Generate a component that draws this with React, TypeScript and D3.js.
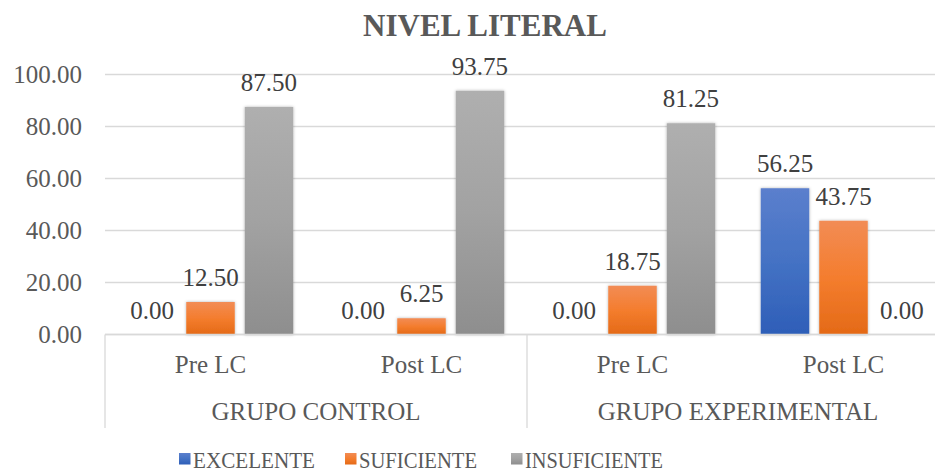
import React from "react";
import * as d3 from "d3";

const categories = ["Pre LC", "Post LC", "Pre LC", "Post LC"];
const groups = ["GRUPO CONTROL", "GRUPO EXPERIMENTAL"];
const seriesNames = ["EXCELENTE", "SUFICIENTE", "INSUFICIENTE"];
const excelente = [0, 0, 0, 56.25];
const suficiente = [12.5, 6.25, 18.75, 43.75];
const insuficiente = [87.5, 93.75, 81.25, 0];
const yTicks = [0, 20, 40, 60, 80, 100];

const width = 935;
const height = 471;
const font = "Liberation Serif";

// gradient stops per series: light top, base, dark bottom
const colors = [
  ["#5b7fcd", "#4472c4", "#2e5eb8"],
  ["#f28c55", "#f47d2e", "#e46a17"],
  ["#afafaf", "#a2a2a2", "#8e8e8e"],
];

export default function App() {
  const values = [excelente, suficiente, insuficiente];

  const plotLeft = 105;
  const plotRight = 949; // the chart runs past the right edge of the picture
  const y = d3.scaleLinear().domain([0, 100]).range([334.5, 74.5]);

  const x0 = d3
    .scaleBand<number>()
    .domain(categories.map((_, i) => i))
    .range([plotLeft, plotRight]);

  const x1 = d3
    .scaleBand<number>()
    .domain(seriesNames.map((_, i) => i))
    .range([0, x0.bandwidth()])
    .paddingInner(0.171)
    .paddingOuter(0.389);

  const groupWidth = x0.bandwidth() * 2;

  const legendItems = [
    { x: 179, textW: 122 },
    { x: 345, textW: 118 },
    { x: 511, textW: 138 },
  ];

  const textStyle = { fontFamily: font };

  return (
    <div style={{ position: "fixed", left: 0, top: 0 }}>
      <svg width={width} height={height} style={{ display: "block", background: "#fff" }}>
        <defs>
          {colors.map((c, i) => (
            <linearGradient key={i} id={`grad${i}`} x1="0" y1="0" x2="0" y2="1">
              <stop offset="0%" stopColor={c[0]} />
              <stop offset="50%" stopColor={c[1]} />
              <stop offset="100%" stopColor={c[2]} />
            </linearGradient>
          ))}
          <filter id="shadow" x="-20%" y="-20%" width="140%" height="140%">
            <feDropShadow dx="0" dy="0" stdDeviation="1.5" floodColor="#000" floodOpacity="0.3" />
          </filter>
        </defs>

        <text
          x={485}
          y={36}
          textAnchor="middle"
          style={textStyle}
          fontWeight="bold"
          fontSize={31}
          fill="#595959"
        >
          NIVEL LITERAL
        </text>

        {/* gridlines */}
        {yTicks.map((t) => (
          <line
            key={t}
            x1={plotLeft}
            x2={plotRight}
            y1={y(t)}
            y2={y(t)}
            stroke="#d9d9d9"
            strokeWidth={1.3}
          />
        ))}

        {/* y tick labels */}
        {yTicks.map((t) => (
          <text
            key={t}
            x={82}
            y={y(t) + 8.5}
            textAnchor="end"
            style={textStyle}
            fontSize={25}
            fill="#595959"
          >
            {t.toFixed(2)}
          </text>
        ))}

        {/* bars */}
        {categories.map((_, ci) =>
          values.map((vals, si) => {
            const v = vals[ci];
            const bx = (x0(ci) ?? 0) + (x1(si) ?? 0);
            return (
              <g key={`${ci}-${si}`}>
                {v > 0 && (
                  <rect
                    x={bx}
                    y={y(v)}
                    width={x1.bandwidth()}
                    height={y(0) - y(v)}
                    fill={`url(#grad${si})`}
                    filter="url(#shadow)"
                  />
                )}
                <text
                  x={bx + x1.bandwidth() / 2}
                  y={y(v) - 16}
                  textAnchor="middle"
                  style={textStyle}
                  fontSize={25}
                  fill="#404040"
                >
                  {v.toFixed(2)}
                </text>
              </g>
            );
          })
        )}

        {/* category axis */}
        <line x1={plotLeft} x2={plotRight} y1={y(0)} y2={y(0)} stroke="#d9d9d9" strokeWidth={1.3} />
        {[0, 1, 2].map((g) => {
          const gx = plotLeft + g * groupWidth;
          return (
            <line key={g} x1={gx} x2={gx} y1={y(0)} y2={428} stroke="#d9d9d9" strokeWidth={1.3} />
          );
        })}

        {categories.map((c, ci) => (
          <text
            key={ci}
            x={(x0(ci) ?? 0) + x0.bandwidth() / 2}
            y={373}
            textAnchor="middle"
            style={textStyle}
            fontSize={25}
            fill="#595959"
          >
            {c}
          </text>
        ))}

        {groups.map((g, gi) => (
          <text
            key={g}
            x={plotLeft + gi * groupWidth + groupWidth / 2}
            y={420}
            textAnchor="middle"
            style={textStyle}
            fontSize={25}
            fill="#595959"
          >
            {g}
          </text>
        ))}

        {/* legend */}
        {seriesNames.map((s, si) => (
          <g key={s}>
            <rect x={legendItems[si].x} y={453} width={11.5} height={11.5} fill={`url(#grad${si})`} />
            <text
              x={legendItems[si].x + 14}
              y={467.5}
              style={textStyle}
              fontSize={24}
              fill="#595959"
              textLength={legendItems[si].textW}
              lengthAdjust="spacingAndGlyphs"
            >
              {s}
            </text>
          </g>
        ))}
      </svg>
    </div>
  );
}
